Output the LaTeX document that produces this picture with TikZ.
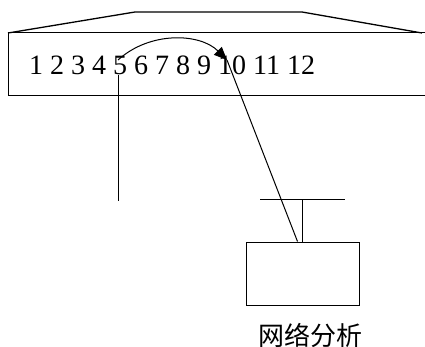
\documentclass[tikz,border=0pt]{standalone}
\usepackage{fontspec}
\setmainfont{Liberation Serif}
\newfontfamily\cjkfont{Noto Sans CJK SC}
\usepackage{tikz}
\usetikzlibrary{arrows.meta, positioning, calc}

\begin{document}
\begin{tikzpicture}[
        x=1pt, y=-1pt,
        thinLine/.style={
            draw=black,
            line width=1pt
        },
        caseLine/.style={
            draw=black,
            line width=1.3pt
        },
        jumpArrow/.style={
            -{Triangle[length=13pt,width=11pt]},
            line width=1pt
        },
        portText/.style={
            inner sep=0pt,
            font=\fontsize{28}{30}\selectfont
        },
        boxNode/.style={
            draw=black,
            line width=1pt,
            minimum width=113pt,
            minimum height=63pt,
            inner sep=0pt
        },
        labelText/.style={
            inner sep=0pt,
            font=\cjkfont\fontsize{26}{28}\selectfont
        }
    ]
    \useasboundingbox (0,0) rectangle (425,347);

    % Switch case: lid and front panel
    \draw[caseLine] (8,33) -- (135,12) -- (302,12) -- (422,33);
    \draw[thinLine] (430,33) -- (8,33) -- (8,96) -- (430,96);

    % Port numbers
    \node[portText, anchor=west] (ports) at (29,65) {1 2 3 4 5 6 7 8 9 10 11 12};

    \coordinate (portFive) at (118,60);
    \coordinate (portFiveLow) at (118,75);
    \coordinate (portTen) at (227,60);
    \coordinate (hostEnd) at (118,201);

    % Mirroring arrow from port 5 to port 10
    \draw[jumpArrow] (portFive) .. controls (150,31) and (200,33) .. (portTen);

    % Cable from port 5
    \draw[thinLine] (portFiveLow) -- (hostEnd);

    % Analyzer with stand
    \node[boxNode] (analyzer) at (302.5,273.5) {};
    \coordinate (barLeft) at (260,200);
    \coordinate (barRight) at (345,200);
    \coordinate (barMid) at (302,200);
    \draw[thinLine] (barLeft) -- (barRight);
    \draw[thinLine] (barMid) -- (barMid |- analyzer.north);

    % Cable from port 10 to analyzer
    \draw[thinLine] (portTen) -- ($(analyzer.north)+(-5,0)$);

    \node[labelText] (analyzerLabel) at (310,335) {网络分析};

\end{tikzpicture}
\end{document}
